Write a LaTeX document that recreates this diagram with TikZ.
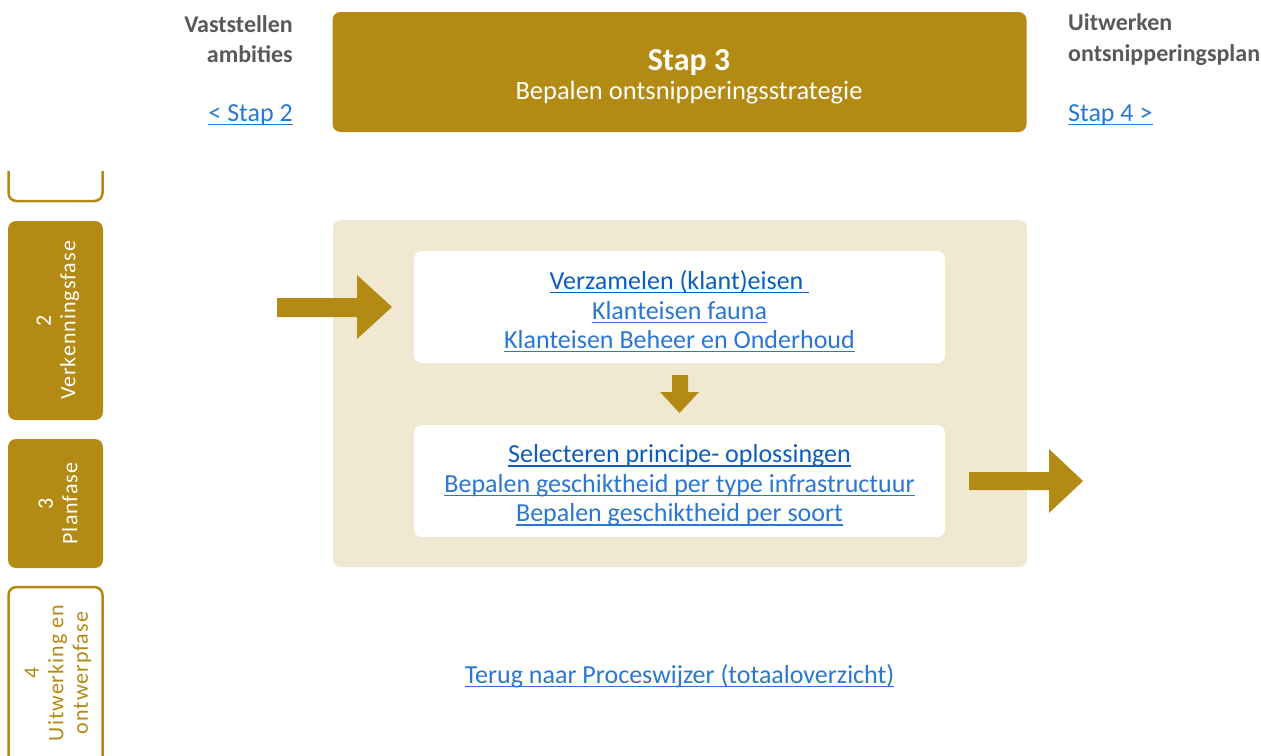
\documentclass[tikz,border=0pt]{standalone}
\usepackage{fontspec}
\setmainfont{Carlito}
\definecolor{gold}{HTML}{B38A13}
\definecolor{sand}{HTML}{F0E8D1}
\definecolor{headgray}{HTML}{595959}
\definecolor{linkdark}{HTML}{0B5EBF}
\definecolor{linkblue}{HTML}{2A77D1}
% underlined link text: a thin rule just below the baseline
\newcommand{\undl}[1]{\leavevmode\setbox0\hbox{#1}\rlap{\rule[-3.8pt]{\wd0}{1.2pt}}\box0}
\begin{document}
\begin{tikzpicture}[x=1pt,y=-1pt,
  body/.style={font=\fontsize{26}{29.5}\selectfont, inner sep=0pt, align=center},
  sidehead/.style={font=\fontsize{24}{30}\selectfont\bfseries, text=headgray, inner sep=0pt},
  sidelink/.style={font=\fontsize{26}{30}\selectfont, text=linkblue, inner sep=0pt},
  box/.style={inner sep=0pt, rounded corners=8pt},
  headbox/.style={box, fill=gold},
  panelbox/.style={box, fill=sand},
  cardbox/.style={box, fill=white},
  tabfull/.style={box, fill=gold},
  tabopen/.style={box, fill=white, draw=gold, line width=2.5pt},
  tabtext/.style={font=\fontsize{22}{24.5}\selectfont\addfontfeatures{LetterSpace=4.5}, inner sep=0pt, align=center, rotate=90},
  blockarrow/.style={fill=gold}]
\useasboundingbox (0,0) rectangle (1261,755);

% header bar
\node[headbox, minimum width=694, minimum height=120] (head) at (679.5,72) {};
\node[font=\fontsize{32}{34}\selectfont\bfseries, text=white, inner sep=0pt, anchor=base] (headnum) at (689,70) {Stap 3};
\node[font=\fontsize{26.5}{30}\selectfont, text=white, inner sep=0pt, anchor=base] (headtitle) at (689,99) {Bepalen ontsnipperingsstrategie};

% previous step
\node[sidehead, anchor=base east] (prev1) at (293,32) {Vaststellen};
\node[sidehead, anchor=base east] (prev2) at (293,62) {ambities};
\node[sidelink, anchor=base east] (prevlink) at (293,121) {\undl{< Stap 2}};

% next step
\node[sidehead, anchor=base west] (next1) at (1068,30) {Uitwerken};
\node[sidehead, anchor=base west] (next2) at (1068,61) {ontsnipperingsplan};
\node[sidelink, anchor=base west] (nextlink) at (1068,121) {\undl{Stap 4 >}};

% phase tabs
\begin{scope}
  \clip (0,171) rectangle (120,755);
  \node[tabopen, minimum width=94, minimum height=120] (tab1) at (55.5,141) {};
  \node[tabfull, minimum width=95, minimum height=199] (tab2) at (55.5,320.5) {};
  \node[tabfull, minimum width=95, minimum height=129] (tab3) at (55.5,503.5) {};
  \node[tabopen, minimum width=94, minimum height=200] (tab4) at (55.5,687) {};
  \node[tabtext, text=white] (tab2txt) at (58,320.5) {2\\Verkenningsfase};
  \node[tabtext, text=white] (tab3txt) at (58,503.5) {3\\Planfase};
  \node[tabtext, text=gold] (tab4txt) at (58,673) {4\\Uitwerking en\\ontwerpfase};
\end{scope}

% step panel with its two cards
\node[panelbox, minimum width=694, minimum height=347] (panel) at (680,393.5) {};
\node[cardbox, minimum width=531, minimum height=112] (card1) at (679.5,307) {};
\node[cardbox, minimum width=531, minimum height=112] (card2) at (679.5,481) {};

\node[body] (card1txt) at ([yshift=-4.5pt]card1.center) {\textcolor{linkdark}{\undl{Verzamelen (klant)eisen\hspace{0.23em}}}\\
  \textcolor{linkblue}{\undl{Klanteisen fauna}}\\
  \textcolor{linkblue}{\undl{Klanteisen Beheer en Onderhoud}}};
\node[body] (card2txt) at ([yshift=-4.5pt]card2.center) {\textcolor{linkdark}{\undl{Selecteren principe- oplossingen}}\\
  \textcolor{linkblue}{\undl{Bepalen geschiktheid per type infrastructuur}}\\
  \textcolor{linkblue}{\undl{Bepalen geschiktheid per soort}}};

% block arrows
\fill[blockarrow] (277,298) -- (357,298) -- (357,275) -- (392,307) -- (357,339) -- (357,317) -- (277,317) -- cycle;
\fill[blockarrow] (672,375) -- (688,375) -- (688,392) -- (699,392) -- (679.5,413) -- (660,392) -- (672,392) -- cycle;
\fill[blockarrow] (969,472) -- (1049,472) -- (1049,449) -- (1083,481) -- (1049,513) -- (1049,490) -- (969,490) -- cycle;

% back link
\node[sidelink, anchor=base] (back) at (679.5,683) {\undl{Terug naar Proceswijzer (totaaloverzicht)}};
\end{tikzpicture}
\end{document}
